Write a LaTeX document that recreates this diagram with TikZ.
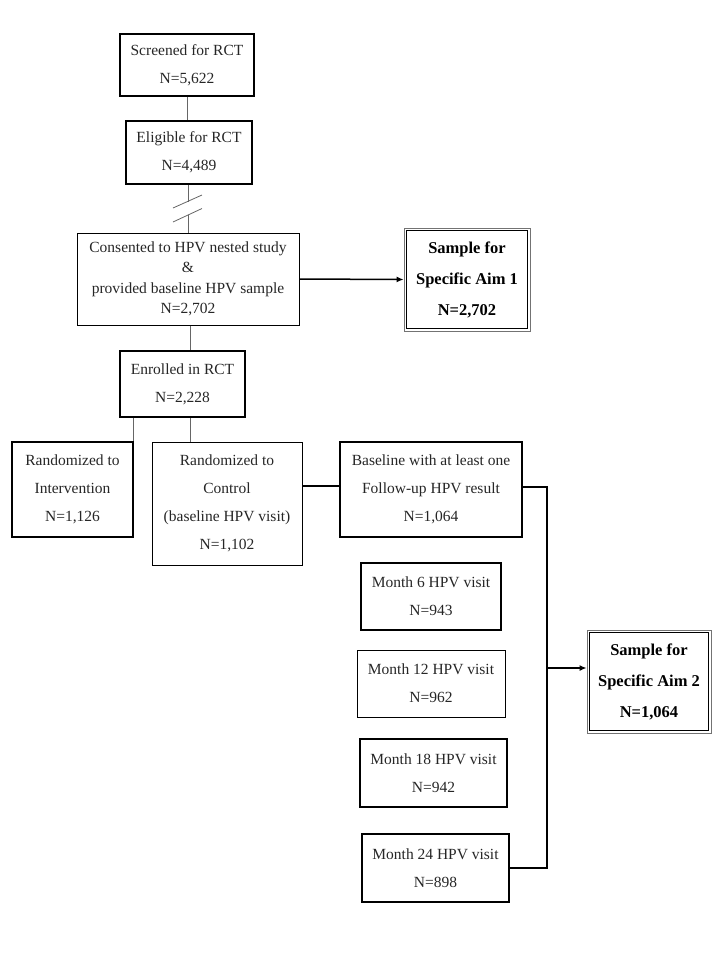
\documentclass[tikz,border=0pt]{standalone}
\usepackage{fontspec}
\setmainfont{Liberation Serif}
\usetikzlibrary{arrows.meta,calc}
\begin{document}
\begin{tikzpicture}[x=1pt,y=-1pt,
  box/.style={draw=black, line width=1.5pt, align=center, inner sep=0pt,
    text=black!85, font=\fontsize{15.5}{28}\selectfont},
  thinbox/.style={box, line width=1pt},
  aimbox/.style={draw=black!55, line width=0.8pt, align=center, inner sep=0pt,
    text=black, font=\bfseries\fontsize{16.5}{31}\selectfont},
  conn/.style={draw=black!60, line width=0.8pt},
  thick conn/.style={draw=black, line width=1.5pt},
  arr/.style={thick conn, -{Latex[length=7pt,width=6pt]}}]
\useasboundingbox (0,0) rectangle (726,962);

\node[box, minimum width=134pt, minimum height=62pt] (scr) at (187,65) {Screened for RCT\\N=5,622};
\node[box, minimum width=126pt, minimum height=63pt] (eli) at (189,152.5) {Eligible for RCT\\N=4,489};
\node[thinbox, minimum width=222pt, minimum height=92pt, font=\fontsize{15.5}{20.5}\selectfont] (con) at (188,279)
  {Consented to HPV nested study\\\&\\provided baseline HPV sample\\N=2,702};
\node[aimbox, minimum width=126pt, minimum height=103pt] (aim1) at (467,279.5) {Sample for\\Specific Aim 1\\N=2,702};
\draw[black, line width=1.3pt] ($(aim1.north west)+(3,3)$) rectangle ($(aim1.south east)+(-3,-3)$);

\node[box, minimum width=125pt, minimum height=66pt] (enr) at (182.5,384) {Enrolled in RCT\\N=2,228};
\node[box, minimum width=121pt, minimum height=95pt] (int) at (72.5,489.5) {Randomized to\\Intervention\\N=1,126};
\node[thinbox, minimum width=150pt, minimum height=123pt] (ctl) at (227,503.5) {Randomized to\\Control\\(baseline HPV visit)\\N=1,102};
\node[box, minimum width=182pt, minimum height=95pt] (base) at (431,489.5) {Baseline with at least one\\Follow-up HPV result\\N=1,064};

\node[box, minimum width=140pt, minimum height=67pt] (m6) at (431,596.5) {Month 6 HPV visit\\N=943};
\node[thinbox, minimum width=148pt, minimum height=67pt] (m12) at (431,683.5) {Month 12 HPV visit\\N=962};
\node[box, minimum width=147pt, minimum height=68pt] (m18) at (433.5,773) {Month 18 HPV visit\\N=942};
\node[box, minimum width=147pt, minimum height=68pt] (m24) at (435.5,868) {Month 24 HPV visit\\N=898};

\node[aimbox, minimum width=124pt, minimum height=103pt] (aim2) at (649,681.5) {Sample for\\Specific Aim 2\\N=1,064};
\draw[black, line width=1.3pt] ($(aim2.north west)+(3,3)$) rectangle ($(aim2.south east)+(-3,-3)$);

% tree connectors
\draw[conn] (scr.south) -- (scr.south |- eli.north);
\coordinate (b1) at (188,201.5);
\coordinate (b2) at (188,215);
\draw[conn] (eli.south -| b1) -- (b1);
\draw[conn] (b2) -- (b2 |- con.north);
\draw[conn] (173,208) -- (202,195);
\draw[conn] (173,222) -- (202,208.5);
\draw[arr] (con.east) -- (aim1.west);
\coordinate (cx) at (190,0);
\draw[conn] (con.south -| cx) -- (enr.north -| cx);
\draw[conn] (enr.south -| int.north east) -- (int.north east);
\draw[conn] (enr.south -| cx) -- (ctl.north -| cx);
\draw[thick conn] (ctl.east |- 0,486) -- (base.west |- 0,486);

% bracket
\coordinate (bx) at (547,487);
\coordinate (br) at (547,668);
\draw[thick conn] (base.east |- bx) -- (bx) -- (bx |- m24.east) -- (m24.east);
\draw[arr] (br) -- (br -| aim2.west);
\end{tikzpicture}
\end{document}
